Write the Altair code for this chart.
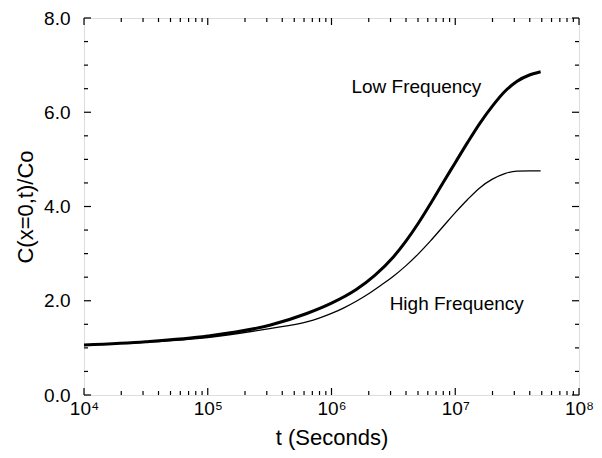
import altair as alt
import pandas as pd

# Data
log_t_low = [4.0, 4.5, 5.0, 5.5, 5.8, 6.0, 6.2, 6.35, 6.5, 6.6, 6.7, 6.8, 6.9, 7.0, 7.1,
             7.2, 7.3, 7.4, 7.5, 7.6, 7.69]
low_freq = [1.06, 1.13, 1.25, 1.48, 1.73, 1.95, 2.24, 2.54, 2.93, 3.26, 3.64, 4.06, 4.50,
            4.93, 5.36, 5.77, 6.13, 6.44, 6.66, 6.79, 6.86]

log_t_high = [4.0, 4.5, 5.0, 5.5, 5.8, 5.9, 6.0, 6.1, 6.2, 6.3, 6.4, 6.5, 6.6, 6.7, 6.8,
              6.9, 7.0, 7.1, 7.2, 7.3, 7.4, 7.5, 7.6, 7.69]
high_freq = [1.06, 1.12, 1.22, 1.41, 1.55, 1.63, 1.73, 1.85, 1.99, 2.15, 2.33, 2.52, 2.74,
             2.99, 3.27, 3.57, 3.87, 4.15, 4.40, 4.58, 4.70, 4.75, 4.755, 4.755]

x_major = [1e4, 1e5, 1e6, 1e7, 1e8]
x_minor = [m * 10 ** k for k in range(4, 8) for m in range(2, 10)]
y_major = [0.0, 2.0, 4.0, 6.0, 8.0]
y_minor = [0.5, 1.0, 1.5, 2.5, 3.0, 3.5, 4.5, 5.0, 5.5, 6.5, 7.0, 7.5]

labels = ["Low Frequency", "High Frequency"]
label_t = [1.45e6, 2.95e6]
label_c = [6.53, 1.94]

W, H = 495, 377
FONT = "Liberation Sans"

df_low = pd.DataFrame({"t": [10 ** v for v in log_t_low], "c": low_freq})
df_high = pd.DataFrame({"t": [10 ** v for v in log_t_high], "c": high_freq})

xs = alt.Scale(type="log", domain=[1e4, 1e8], nice=False)
ys = alt.Scale(domain=[0, 8], nice=False, zero=False)

sup = "['\u2070','\u00b9','\u00b2','\u00b3','\u2074','\u2075','\u2076','\u2077','\u2078','\u2079']"

x_axis = alt.Axis(values=x_major, ticks=False, domain=False, grid=False,
                  labelExpr="'10' + " + sup + "[round(log(datum.value)/LN10)]",
                  labelFontSize=19, labelFont=FONT, labelColor="black", labelPadding=4,
                  title="t (Seconds)", titleFontSize=22, titleFont=FONT,
                  titleFontWeight="normal", titleColor="black", titlePadding=9,
                  labelFlush=False)
y_axis = alt.Axis(values=y_major, ticks=False, domain=False, grid=False, format=".1f",
                  labelFontSize=19, labelFont=FONT, labelColor="black", labelPadding=14,
                  title="C(x=0,t)/Co", titleFontSize=22, titleFont=FONT,
                  titleFontWeight="normal", titleColor="black", titlePadding=6,
                  labelFlush=False)

base_axes = alt.Chart(df_low).mark_line(opacity=0).encode(
    x=alt.X("t:Q", scale=xs, axis=x_axis),
    y=alt.Y("c:Q", scale=ys, axis=y_axis),
)

low = alt.Chart(df_low).mark_line(color="black", strokeWidth=3, interpolate="monotone").encode(
    x=alt.X("t:Q", scale=xs), y=alt.Y("c:Q", scale=ys))
high = alt.Chart(df_high).mark_line(color="black", strokeWidth=1.3, interpolate="monotone").encode(
    x=alt.X("t:Q", scale=xs), y=alt.Y("c:Q", scale=ys))


def xticks(vals, length, top):
    d = pd.DataFrame({"t": vals})
    if top:
        yy, yy2 = alt.value(0), alt.value(length)
    else:
        yy, yy2 = alt.value(H), alt.value(H - length)
    return alt.Chart(d).mark_rule(color="black", strokeWidth=1.2).encode(
        x=alt.X("t:Q", scale=xs), y=yy, y2=yy2)


def yticks(vals, length, right):
    d = pd.DataFrame({"c": vals})
    if right:
        xx, xx2 = alt.value(W), alt.value(W - length)
    else:
        xx, xx2 = alt.value(0), alt.value(length)
    return alt.Chart(d).mark_rule(color="black", strokeWidth=1.2).encode(
        y=alt.Y("c:Q", scale=ys), x=xx, x2=xx2)


ticks = [
    xticks(x_major, 7, False), xticks(x_minor, 4, False),
    xticks(x_major, 7, True), xticks(x_minor, 4, True),
    yticks(y_major, 7, False), yticks(y_minor, 4, False),
    yticks(y_major, 7, True), yticks(y_minor, 4, True),
]

df_lab = pd.DataFrame({"t": label_t, "c": label_c, "txt": labels})
text = alt.Chart(df_lab).mark_text(align="left", baseline="middle", fontSize=19,
                                   font=FONT, color="black").encode(
    x=alt.X("t:Q", scale=xs), y=alt.Y("c:Q", scale=ys), text="txt:N")

chart = alt.layer(base_axes, *ticks, low, high, text).properties(
    width=W, height=H,
    autosize=alt.AutoSizeParams(type="none"),
    padding={"left": 76, "top": 10, "right": 15, "bottom": 55},
).configure_view(stroke="black", strokeWidth=1.3).configure(background="white")

chart.save("out.html", embed_options={"renderer": "svg", "actions": False})
